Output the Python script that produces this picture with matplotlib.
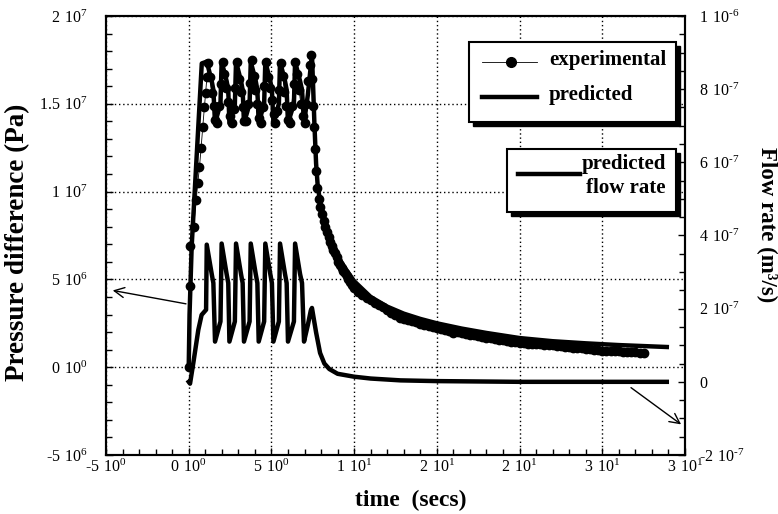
import matplotlib
matplotlib.use("Agg")
import matplotlib.pyplot as plt
from matplotlib.patches import Rectangle
from matplotlib.lines import Line2D
from matplotlib.ticker import FixedLocator, FixedFormatter, MultipleLocator

plt.rcParams['font.family'] = ['Liberation Serif', 'DejaVu Serif']

# experimental pressure difference (1e6 Pa) vs time (s)
t_exp = [0.00, 0.08, 0.10, 0.30, 0.45, 0.55, 0.65, 0.75, 0.85, 0.95, 1.02, 1.10,
         1.17, 1.28, 1.39, 1.50, 1.61, 1.72, 1.83, 1.94,
         2.05, 2.16, 2.27, 2.38, 2.49, 2.60, 2.71, 2.82,
         2.93, 3.04, 3.15, 3.26, 3.37, 3.48, 3.59, 3.70,
         3.81, 3.92, 4.03, 4.14, 4.25, 4.36, 4.47, 4.58,
         4.69, 4.80, 4.91, 5.02, 5.13, 5.24, 5.35, 5.46,
         5.57, 5.68, 5.79, 5.90, 6.01, 6.12, 6.23, 6.34,
         6.45, 6.56, 6.67, 6.78, 6.89, 7.00, 7.11, 7.22, 7.33, 7.40,
         7.48, 7.53, 7.58, 7.64, 7.70, 7.78, 7.86, 7.95, 8.05, 8.15, 8.25, 8.35,
         8.45, 8.55, 8.65, 8.75, 8.85, 8.95, 9.05, 9.15, 9.25, 9.35, 9.45, 9.55,
         9.65, 9.75, 9.87,
         10.00, 10.25, 10.50, 10.75, 11.00, 11.25, 11.50, 11.75, 12.00, 12.25,
         12.50, 12.75, 13.00, 13.25, 13.50, 13.75, 14.00, 14.25, 14.50, 14.75,
         15.00, 15.25, 15.50, 15.75, 16.00, 16.25, 16.50, 16.75, 17.00, 17.25,
         17.50, 17.75, 18.00, 18.25, 18.50, 18.75, 19.00, 19.25, 19.50, 19.75,
         20.00, 20.25, 20.50, 20.75, 21.00, 21.25, 21.50, 21.75, 22.00, 22.25,
         22.50, 22.75, 23.00, 23.25, 23.50, 23.75, 24.00, 24.25, 24.50, 24.75,
         25.00, 25.25, 25.50, 25.75, 26.00, 26.25, 26.50, 26.75, 27.00, 27.25,
         27.50]
p_exp = [0.0, 4.6, 6.9, 8.0, 9.5, 10.5, 11.4, 12.5, 13.7, 14.8, 15.6, 16.5,
         17.3, 16.5, 15.6, 14.9, 14.1, 13.9, 14.9, 16.1,
         17.4, 16.7, 15.9, 15.1, 14.3, 13.9, 14.7, 15.9,
         17.4, 16.4, 15.7, 14.8, 14.0, 14.0, 15.0, 16.2,
         17.5, 16.6, 15.8, 15.0, 14.2, 13.9, 14.8, 16.0,
         17.4, 16.5, 15.9, 15.2, 14.4, 13.9, 14.6, 15.8,
         17.3, 16.6, 15.7, 14.9, 14.1, 13.9, 14.9, 16.1,
         17.4, 16.7, 15.8, 15.0, 14.3, 13.9, 15.0, 16.3, 17.2, 17.8,
         16.4, 14.9, 13.7, 12.4, 11.2, 10.2, 9.6, 9.1, 8.7, 8.3, 8.0, 7.7,
         7.4, 7.15, 6.9, 6.7, 6.5, 6.3, 6.0, 5.8, 5.65, 5.5, 5.35, 5.2,
         5.0, 4.85, 4.68,
         4.52, 4.30, 4.12, 3.95, 3.80, 3.65, 3.52, 3.40, 3.28, 3.10,
         2.95, 2.82, 2.76, 2.70, 2.62, 2.55, 2.48, 2.42, 2.34, 2.28,
         2.23, 2.18, 2.13, 2.08, 1.96, 1.99, 1.96, 1.90, 1.86, 1.82,
         1.76, 1.72, 1.68, 1.64, 1.60, 1.57, 1.53, 1.50, 1.46, 1.42,
         1.38, 1.36, 1.34, 1.30, 1.31, 1.30, 1.28, 1.26, 1.24, 1.22,
         1.20, 1.17, 1.15, 1.12, 1.10, 1.07, 1.04, 1.02, 0.99, 0.97,
         0.95, 0.94, 0.92, 0.91, 0.90, 0.88, 0.86, 0.85, 0.84, 0.83,
         0.82]

# predicted pressure difference (1e6 Pa)
t_pred = [0.00, 0.05, 0.18, 0.79, 1.09,
          1.39, 1.49, 1.59, 1.92, 1.99,
          2.29, 2.39, 2.46, 2.79, 2.86,
          3.16, 3.26, 3.34, 3.68, 3.75,
          4.05, 4.15, 4.23, 4.56, 4.63,
          4.93, 5.03, 5.12, 5.45, 5.52,
          5.82, 5.92, 6.00, 6.36, 6.43,
          6.73, 6.85, 6.97, 7.20, 7.45,
          7.52, 7.60, 7.70, 7.80, 7.95, 8.20, 8.50, 8.90, 9.30, 10.0, 11.0, 12.0,
          13.0, 14.0, 15.0, 16.5, 18.0, 20.0, 22.0, 24.0, 26.0, 28.9]
p_pred = [0.0, 3.0, 6.9, 17.3, 17.4,
          16.3, 15.8, 13.9, 15.0, 17.4,
          16.3, 15.8, 13.9, 15.0, 17.4,
          16.3, 15.8, 13.9, 15.0, 17.4,
          16.3, 15.8, 13.9, 15.0, 17.4,
          16.3, 15.8, 13.9, 15.0, 17.4,
          16.3, 15.8, 13.9, 15.0, 17.4,
          16.3, 15.8, 13.9, 15.5, 17.8,
          16.0, 13.8, 11.6, 10.3, 9.4, 8.4, 7.5, 6.6, 5.85, 4.9, 4.0, 3.45,
          3.05, 2.75, 2.5, 2.2, 1.95, 1.66, 1.48, 1.36, 1.26, 1.15]

# predicted flow rate (1e-7 m^3/s)
t_flow = [0.00, 0.08, 0.28, 0.58, 0.78, 1.05, 1.09,
          1.39, 1.49, 1.59, 1.92, 1.99,
          2.29, 2.39, 2.46, 2.79, 2.86,
          3.16, 3.26, 3.34, 3.68, 3.75,
          4.05, 4.15, 4.23, 4.56, 4.63,
          4.93, 5.03, 5.12, 5.45, 5.52,
          5.82, 5.92, 6.00, 6.36, 6.43,
          6.73, 6.85, 6.97, 7.20, 7.38, 7.45, 7.55, 7.70, 7.94,
          8.20, 8.50, 9.00, 10.0, 11.0, 12.8, 15.0, 20.0, 25.0, 28.9]
q_flow = [0.0, -0.05, 0.52, 1.42, 1.83, 1.97, 3.75,
          2.95, 2.70, 1.10, 1.65, 3.78,
          2.95, 2.70, 1.10, 1.65, 3.78,
          2.95, 2.70, 1.10, 1.65, 3.78,
          2.95, 2.70, 1.10, 1.65, 3.78,
          2.95, 2.70, 1.10, 1.65, 3.78,
          2.95, 2.70, 1.10, 1.65, 3.78,
          2.95, 2.70, 1.10, 1.55, 1.95, 2.02, 1.75, 1.35, 0.79,
          0.50, 0.35, 0.22, 0.14, 0.09, 0.04, 0.02, 0.0, 0.0, 0.0]

# tick labels ("‐" is a plain hyphen so mathtext keeps it short)
x_ticks = [-5, 0, 5, 10, 15, 20, 25, 30]
x_labels = [r'$\mathregular{‐5\ 10^{0}}$', r'$\mathregular{0\ 10^{0}}$', r'$\mathregular{5\ 10^{0}}$',
            r'$\mathregular{1\ 10^{1}}$', r'$\mathregular{2\ 10^{1}}$', r'$\mathregular{2\ 10^{1}}$',
            r'$\mathregular{3\ 10^{1}}$', r'$\mathregular{3\ 10^{1}}$']
p_ticks = [-5e6, 0, 5e6, 1e7, 1.5e7, 2e7]
p_labels = [r'$\mathregular{‐5\ 10^{6}}$', r'$\mathregular{0\ 10^{0}}$', r'$\mathregular{5\ 10^{6}}$',
            r'$\mathregular{1\ 10^{7}}$', r'$\mathregular{1.5\ 10^{7}}$', r'$\mathregular{2\ 10^{7}}$']
q_ticks = [-2e-7, 0, 2e-7, 4e-7, 6e-7, 8e-7, 1e-6]
q_labels = [r'$\mathregular{‐2\ 10^{‐7}}$', '0', r'$\mathregular{2\ 10^{‐7}}$', r'$\mathregular{4\ 10^{‐7}}$',
            r'$\mathregular{6\ 10^{‐7}}$', r'$\mathregular{8\ 10^{‐7}}$', r'$\mathregular{1\ 10^{‐6}}$']

fig = plt.figure(figsize=(7.78, 5.14), dpi=100)
ax = fig.add_axes([106/778, 1 - 455/514, 579/778, 439/514])
ax2 = ax.twinx()

ax.plot(t_exp, [v * 1e6 for v in p_exp], '-o', color='k', lw=0.6, ms=6, zorder=3)
ax.plot(t_pred, [v * 1e6 for v in p_pred], '-', color='k', lw=3.2, zorder=4)
ax2.plot(t_flow, [v * 1e-7 for v in q_flow], '-', color='k', lw=3.2)

ax.set_xlim(-5, 30)
ax.set_ylim(-5e6, 2e7)
ax2.set_ylim(-2e-7, 1e-6)

ax.xaxis.set_major_locator(FixedLocator(x_ticks))
ax.xaxis.set_major_formatter(FixedFormatter(x_labels))
ax.xaxis.set_minor_locator(MultipleLocator(1))
ax.yaxis.set_major_locator(FixedLocator(p_ticks))
ax.yaxis.set_major_formatter(FixedFormatter(p_labels))
ax.yaxis.set_minor_locator(MultipleLocator(1e6))
ax2.yaxis.set_major_locator(FixedLocator(q_ticks))
ax2.yaxis.set_major_formatter(FixedFormatter(q_labels))
ax2.yaxis.set_minor_locator(MultipleLocator(5e-8))

ax.grid(True, which='major', ls=(0, (1, 2)), color='k', lw=1)
ax.tick_params(which='both', direction='in', top=False, right=False, width=1, labelsize=11.5)
ax.tick_params(which='major', length=5)
ax.tick_params(which='minor', length=4)
ax.tick_params(axis='y', pad=13)
ax.tick_params(axis='x', pad=3)
ax2.tick_params(which='both', direction='in', width=1, labelsize=11.5, pad=10)
ax2.tick_params(which='major', length=5)
ax2.tick_params(which='minor', length=4)
for a in (ax, ax2):
    for s in a.spines.values():
        s.set_linewidth(1.5)

fig.text(18/778, 1 - 242/514, 'Pressure difference (Pa)', rotation=90, ha='center', va='center',
         fontsize=19.5, fontweight='bold')
fig.text(767/778, 1 - 225/514, 'Flow rate (m³/s)', rotation=270, ha='center', va='center',
         fontsize=16.5, fontweight='bold')
fig.text(411/778, 1 - 500/514, 'time  (secs)', ha='center', va='center', fontsize=17, fontweight='bold')

# arrows showing which axis each curve belongs to
ax.annotate('', xy=(-4.76, 4.4e6), xytext=(0.0, 3.58e6),
            arrowprops=dict(arrowstyle='->', lw=1, color='k', mutation_scale=18))
ax.annotate('', xy=(29.9, -3.35e6), xytext=(26.6, -1.07e6),
            arrowprops=dict(arrowstyle='->', lw=1, color='k', mutation_scale=18))

# legend boxes with drop shadow
tr = ax2.transAxes
dx, dy = 4/579, 4/439
for x0, x1, y0, y1 in [(0.6275, 0.9845, 0.7592, 0.9415), (0.6931, 0.9845, 0.5528, 0.697)]:
    ax2.add_patch(Rectangle((x0 + dx, y0 - dy), x1 - x0, y1 - y0, transform=tr,
                            facecolor='k', edgecolor='k', zorder=9, clip_on=False))
    ax2.add_patch(Rectangle((x0, y0), x1 - x0, y1 - y0, transform=tr,
                            facecolor='white', edgecolor='k', lw=1.5, zorder=10, clip_on=False))

ax2.add_line(Line2D([0.649, 0.744], [0.8945, 0.8945], transform=tr, color='k', lw=0.6, zorder=11))
ax2.add_line(Line2D([0.6995], [0.8945], transform=tr, color='k', marker='o', ms=7, zorder=11))
ax2.add_line(Line2D([0.649, 0.744], [0.8166, 0.8166], transform=tr, color='k', lw=3.2, zorder=11))
ax2.add_line(Line2D([0.7116, 0.8187], [0.6401, 0.6401], transform=tr, color='k', lw=3.2, zorder=11))
ax2.text(0.7651, 0.899, 'experimental', transform=tr, ha='left', va='center',
         fontsize=15, fontweight='bold', zorder=12)
ax2.text(0.7651, 0.819, 'predicted', transform=tr, ha='left', va='center',
         fontsize=15, fontweight='bold', zorder=12)
ax2.text(0.9666, 0.6629, 'predicted', transform=tr, ha='right', va='center',
         fontsize=15, fontweight='bold', zorder=12)
ax2.text(0.9666, 0.6071, 'flow rate', transform=tr, ha='right', va='center',
         fontsize=15, fontweight='bold', zorder=12)

fig.savefig('out.png', dpi=100)
